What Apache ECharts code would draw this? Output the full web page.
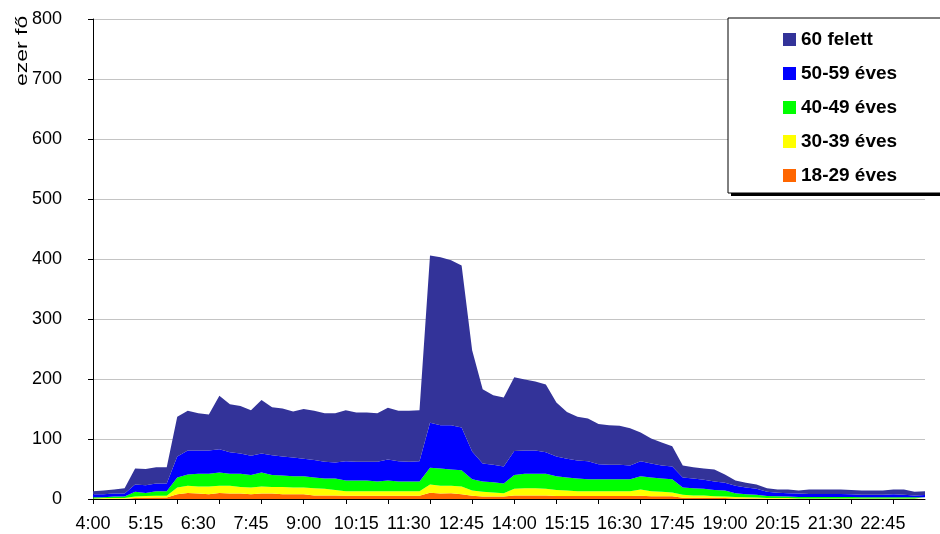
<!DOCTYPE html>
<html>
<head>
<meta charset="utf-8">
<script src="https://cdn.jsdelivr.net/npm/echarts@6/dist/echarts.min.js"></script>
<style>
  html, body { margin: 0; padding: 0; background: #fff; }
  #chart { width: 940px; height: 534px; }
</style>
</head>
<body>
<div id="chart"></div>
<script>
// időpontok (15 perces bontás)
const times = [
  '4:00','4:15','4:30','4:45','5:00','5:15','5:30','5:45','6:00','6:15',
  '6:30','6:45','7:00','7:15','7:30','7:45','8:00','8:15','8:30','8:45',
  '9:00','9:15','9:30','9:45','10:00','10:15','10:30','10:45','11:00','11:15',
  '11:30','11:45','12:00','12:15','12:30','12:45','13:00','13:15','13:30','13:45',
  '14:00','14:15','14:30','14:45','15:00','15:15','15:30','15:45','16:00','16:15',
  '16:30','16:45','17:00','17:15','17:30','17:45','18:00','18:15','18:30','18:45',
  '19:00','19:15','19:30','19:45','20:00','20:15','20:30','20:45','21:00','21:15',
  '21:30','21:45','22:00','22:15','22:30','22:45','23:00','23:15','23:30','23:45'
];

// korcsoportok (ezer fő), alulról felfelé
const age18_29 = [
  0.5,0.5,0.5,0.5,1.5,2,2.5,2.5,8,10, 9,8,10,9,9,8,9,9,8,8,
  8,6,6,6,5.5,5.5,5.5,5.5,5.5,5.5, 5.5,5.5,10.5,9,9.5,8,5.5,4,4,4,
  6,6,6,6,5,5,5,5,5,5, 5,5,5.5,4.5,4.5,4.5,2.2,2,2,2,
  1.5,1,1,1,0.5,0.5,0.5,0.5,0.5,0.5, 0.5,0.5,0.5,0.5,0.5,0.5,0.5,0.5,0.5,0.5
];
const age30_39 = [
  0.5,1,1,1,2.5,3,3,3,11,12, 12,13,12,13,11,11,12,11,12,11,
  11,12,11,9,7.5,7.5,7.5,7.5,7.5,7.5, 7.5,7.5,13.5,13,12.5,13,8.5,8,7,5.5,
  11,12,12,11,10,9,8,8,8,8, 8,8,10.5,8.5,7.5,6.5,4.8,4,4,2.5,
  2.5,2.5,2,1.5,1,1,1,0.5,0.5,0.5, 0.5,0.5,0.5,0.5,0.5,0.5,0.5,0.5,0.5,0.5
];
const age40_49 = [
  2,1.5,2.5,2.5,8,5,7.5,7.5,17,19, 21,21,22,20,22,21,23,20,19,19,
  19,18,17,19,18,18,18,16,18,16, 16,16,28,29,27,27,19,17,17,16.5,
  23,24,24,25,23,22,21,20,20,20, 20,20,22,23,22,22,12,12,11,10.5,
  10,6,5,4.5,3.5,3,2.5,2.5,2.5,2.5, 2.5,2.5,2.5,2,2,2,2,2,2,2
];
const age50_59 = [
  5,5,5,5,12,13,13,13,35,40, 39,39,39,36,34,32,32,33,32,31,
  29,29,28,27,32,31,31,33,35,34, 33,34,75,72,74,71,46,30,29,28,
  40,39,39,36,33,31,30,30,25,24, 24,23,25,23,22,21,17,16,15,14,
  13,12.5,11,10,7,6,5.5,5.5,5,5, 5,5,4.5,4,4,4,5,4,3,3.5
];
const age60plus = [
  5,6,7,9,27,27,27,27,66,66, 62,60,89,80,79,76,89,80,80,77,
  83,82,81,82,85,82,82,81,86,84, 85,85,279,280,275,270,169,124,116,115,
  123,118,115,113,90,78,73,71,67,66, 65,62,48,42,38,34,20,19,19,20,
  14,9,8,7,6,5.5,6.5,5,7.5,7.5, 7.5,7.5,7,7,7,7,8,9,6,6.5
];

const yTicks = [0, 100, 200, 300, 400, 500, 600, 700, 800];

const font = '"Liberation Sans", Arial, sans-serif';

let chart = echarts.init(document.getElementById('chart'));

function layer(name, data, color) {
  return {
    name: name,
    type: 'line',
    stack: 'total',
    data: data,
    showSymbol: false,
    symbol: 'none',
    lineStyle: { width: 0 },
    areaStyle: { color: color, opacity: 1 },
    itemStyle: { color: color }
  };
}

let option = {
  animation: false,
  backgroundColor: '#fff',
  grid: {
    left: 93,
    right: 15,
    top: 19,
    bottom: 35
  },
  legend: {
    orient: 'vertical',
    left: 728,
    top: 18,
    z: 5,
    data: ['60 felett', '50-59 éves', '40-49 éves', '30-39 éves', '18-29 éves'],
    icon: 'rect',
    itemWidth: 13,
    itemHeight: 13,
    itemGap: 15,
    padding: [12, 60, 8, 55],
    backgroundColor: '#fff',
    borderColor: '#000',
    borderWidth: 1,
    selectedMode: false,
    textStyle: {
      fontFamily: font,
      fontSize: 19,
      fontWeight: 'bold',
      color: '#000'
    }
  },
  graphic: [
    {
      // legend shadow
      type: 'rect',
      z: 4,
      shape: { x: 731, y: 21, width: 220, height: 175 },
      style: { fill: '#000' }
    },
    {
      type: 'text',
      x: 14,
      y: 86,
      rotation: Math.PI / 2,
      scaleX: 1.35,
      style: {
        text: 'ezer fő',
        font: '17px ' + font,
        fill: '#000'
      }
    }
  ],
  xAxis: {
    type: 'category',
    boundaryGap: false,
    data: times,
    axisLine: { lineStyle: { color: '#000', width: 1 } },
    axisTick: {
      show: true,
      interval: 3,
      length: 5,
      lineStyle: { color: '#000' }
    },
    axisLabel: {
      interval: 4,
      margin: 16,
      color: '#000',
      fontFamily: font,
      fontSize: 18
    },
    splitLine: { show: false }
  },
  yAxis: {
    type: 'value',
    min: yTicks[0],
    max: yTicks[yTicks.length - 1],
    interval: 100,
    axisLine: { show: true, lineStyle: { color: '#000', width: 1 } },
    axisTick: { show: true, length: 5, lineStyle: { color: '#000' } },
    axisLabel: {
      margin: 31,
      color: '#000',
      fontFamily: font,
      fontSize: 18
    },
    splitLine: { lineStyle: { color: '#c4c4c4', width: 1 } }
  },
  series: [
    layer('18-29 éves', age18_29, '#ff6600'),
    layer('30-39 éves', age30_39, '#ffff00'),
    layer('40-49 éves', age40_49, '#00ff00'),
    layer('50-59 éves', age50_59, '#0000ff'),
    layer('60 felett', age60plus, '#333399')
  ]
};

chart.setOption(option);
</script>
</body>
</html>
